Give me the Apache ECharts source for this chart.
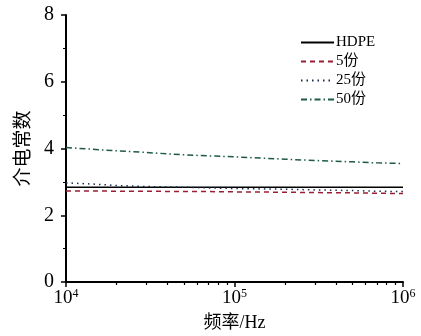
<!DOCTYPE html>
<html><head><meta charset="utf-8">
<script src="https://cdn.jsdelivr.net/npm/echarts@6/dist/echarts.min.js"></script>
<style>html,body{margin:0;padding:0;background:#fff}#c{width:421px;height:336px}</style>
</head><body><div id="c"></div>
<script>
const freq = [1e4, 1.5e4, 2e4, 3e4, 5e4, 7e4, 1e5, 2e5, 3e5, 5e5, 7e5, 1e6];
const hdpe = [2.84, 2.84, 2.84, 2.84, 2.84, 2.84, 2.84, 2.84, 2.84, 2.84, 2.84, 2.84];
const s5   = [2.73, 2.73, 2.72, 2.72, 2.71, 2.71, 2.70, 2.69, 2.68, 2.67, 2.66, 2.65];
const s25  = [2.97, 2.93, 2.89, 2.86, 2.84, 2.82, 2.80, 2.78, 2.76, 2.74, 2.72, 2.71];
const s50  = [4.03, 3.97, 3.93, 3.88, 3.81, 3.78, 3.75, 3.68, 3.64, 3.60, 3.57, 3.55];
const names = ['HDPE', '5份', '25份', '50份'];
const minorX = [2e4,3e4,4e4,5e4,6e4,7e4,8e4,9e4,2e5,3e5,4e5,5e5,6e5,7e5,8e5,9e5];
const FONT = '"Liberation Serif","Noto Sans CJK SC",serif';
const pair = a => freq.map((f,i)=>[f,a[i]]);
const chart = echarts.init(document.getElementById('c'));
chart.setOption({
  animation:false,
  textStyle:{fontFamily:FONT},
  grid:{left:66,right:18,top:15,bottom:54,containLabel:false,outerBoundsMode:'none'},
  legend:{
    left:295, top:30, orient:'vertical', itemGap:4, itemWidth:33, itemHeight:15,
    itemStyle:{opacity:0},
    textStyle:{fontFamily:FONT,fontSize:15,color:'#000',padding:[0,0,0,-3]},
    data:names
  },
  xAxis:[{
    type:'log', logBase:10, min:1e4, max:1e6,
    name:'频率/Hz', nameLocation:'middle', nameGap:32,
    nameTextStyle:{fontFamily:FONT,fontSize:18,color:'#000'},
    axisLine:{lineStyle:{color:'#000',width:2}},
    axisTick:{show:true,length:5,lineStyle:{color:'#000',width:1.5}},
    splitLine:{show:false},
    axisLabel:{color:'#000',fontSize:19,fontFamily:FONT,margin:6,
      formatter:v=>'10{s|'+Math.round(Math.log10(v))+'}',
      rich:{s:{fontSize:12,verticalAlign:'top',padding:[0,0,8,0],fontFamily:FONT,color:'#000'}}}
  },{
    type:'log', logBase:10, min:1e4, max:1e6, position:'bottom',
    axisLine:{show:false},
    axisLabel:{show:false},
    splitLine:{show:false},
    axisTick:{show:true,length:3,customValues:minorX,lineStyle:{color:'#000',width:1.2}}
  }],
  yAxis:{
    type:'value', min:0, max:8, interval:2,
    name:'介电常数', nameLocation:'middle', nameGap:28,
    nameTextStyle:{fontFamily:FONT,fontSize:19,color:'#000'},
    axisLine:{show:true,lineStyle:{color:'#000',width:2}},
    axisTick:{show:true,length:5,lineStyle:{color:'#000',width:1.5}},
    minorTick:{show:true,splitNumber:2,length:3,lineStyle:{color:'#000'}},
    splitLine:{show:false},
    axisLabel:{color:'#000',fontSize:20,fontFamily:FONT,margin:12}
  },
  series:[
    {name:names[0],type:'line',symbol:'none',data:pair(hdpe),lineStyle:{color:'#000',width:1.5,type:'solid'},itemStyle:{color:'#000'}},
    {name:names[1],type:'line',symbol:'none',data:pair(s5),lineStyle:{color:'#9a1f35',width:1.5,type:[5,4]},itemStyle:{color:'#9a1f35'}},
    {name:names[2],type:'line',symbol:'none',data:pair(s25),lineStyle:{color:'#1a2a4e',width:1.5,type:[1.5,4]},itemStyle:{color:'#1a2a4e'}},
    {name:names[3],type:'line',symbol:'none',data:pair(s50),lineStyle:{color:'#1f5a48',width:1.5,type:[6,3,1.5,3]},itemStyle:{color:'#1f5a48'}}
  ]
});
</script></body></html>
